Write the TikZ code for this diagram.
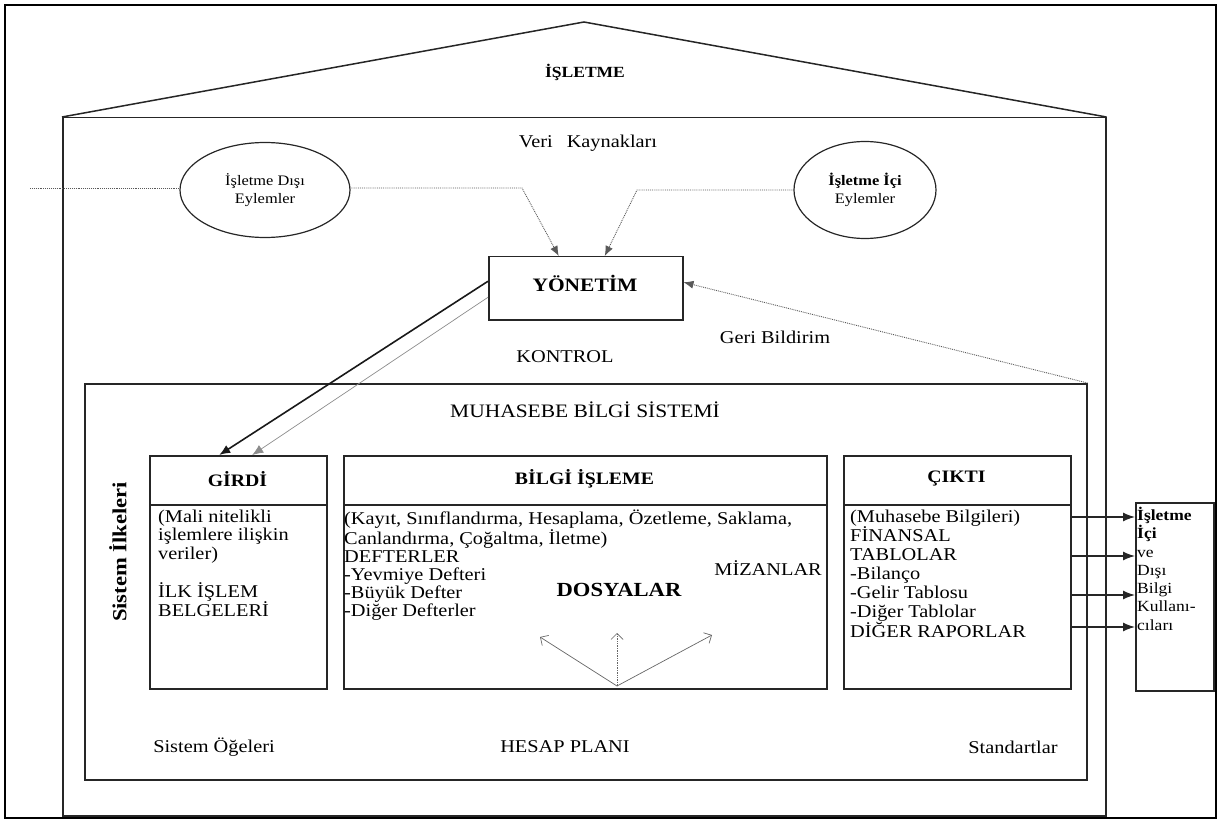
\documentclass[tikz,border=0pt]{standalone}
\usepackage{fontspec}
\setmainfont[FakeStretch=1.13]{Liberation Serif}
\usetikzlibrary{shapes.geometric,arrows.meta,calc}
\begin{document}
\begin{tikzpicture}[x=1pt,y=-1pt,
  frame/.style={draw=black!85, line width=1.5pt},
  box/.style={frame, inner sep=0pt, anchor=north west},
  oval/.style={draw=black!85, line width=1.2pt, ellipse, inner sep=0pt, align=center, font=\fontsize{14.5}{18}\selectfont},
  dotln/.style={draw=black!65, densely dotted, line width=0.9pt},
  darr/.style={dotln, -{Latex[length=10pt,width=8pt]}},
  sarr/.style={draw=black!90, line width=1.6pt, -{Latex[length=11pt,width=9pt]}},
  garr/.style={draw=black!45, line width=0.7pt, -{Latex[length=11pt,width=9pt]}},
  oarr/.style={draw=black!60, line width=0.7pt, -{Straight Barb[length=6pt,width=12pt]}},
  oarrd/.style={oarr, densely dotted},
  carr/.style={draw=black!85, line width=1.3pt, -{Latex[length=12pt,width=9pt]}},
  lbl/.style={inner sep=0pt, font=\fontsize{18}{19}\selectfont},
  blbl/.style={inner sep=0pt, font=\bfseries\fontsize{17.5}{19}\selectfont},
  txt/.style={inner sep=0pt, anchor=north west, align=left}
]
\useasboundingbox (0,0) rectangle (1219,821);
% outer frame
\draw[line width=1.2pt] (5,5) rectangle (1216,818);
% house
\node[box, minimum width=1043pt, minimum height=698pt] (house) at (62,117) {};
\coordinate (apex) at (584,22);
\draw[frame] (house.north west) -- (apex) -- (house.north east);
\node[inner sep=0pt, font=\bfseries\fontsize{15.5}{18}\selectfont] (islt) at (585,72) {İŞLETME};
% ellipses
\node[oval, minimum width=170pt, minimum height=95pt] (dis) at (265,190) {İşletme Dışı\\Eylemler};
\node[oval, minimum width=142pt, minimum height=97pt] (ici) at (865,190) {\textbf{İşletme İçi}\\Eylemler};
\node[lbl] (veri) at (588,143) {Veri\hspace{14pt}Kaynakları};
% management
\node[box, minimum width=194pt, minimum height=63pt] (yon) at (488,256) {};
\node[inner sep=0pt, font=\bfseries\fontsize{19}{20}\selectfont] (yont) at (585,283) {YÖNETİM};
\node[lbl] (kont) at (565,357) {KONTROL};
\node[lbl] (geri) at (775,337) {Geri Bildirim};
% dotted connections
\coordinate (lfree) at (30,188);
\coordinate (c1) at (522,188);
\coordinate (c2) at (637,190);
\draw[dotln] (lfree) -- (dis.west |- lfree);
\draw[darr] (dis.east |- c1) -- (c1) -- ([xshift=-27pt]yon.north);
\draw[darr] (ici.west |- c2) -- (c2) -- ([xshift=19pt]yon.north);
% MBS
\node[box, minimum width=1002pt, minimum height=396pt] (mbs) at (84,383) {};
\node[inner sep=0pt, font=\fontsize{19}{20}\selectfont] (mbst) at (585,410) {MUHASEBE BİLGİ SİSTEMİ};
\draw[darr] (mbs.north east) -- ([yshift=6pt]yon.east);
\node[inner sep=0pt, font=\bfseries\fontsize{20}{20}\selectfont, rotate=90] (ilk) at (118,552) {Sistem İlkeleri};
% three boxes
\node[box, minimum width=177pt, minimum height=233pt] (girdi) at (149,455) {};
\node[box, minimum width=483pt, minimum height=233pt] (bilgi) at (343,455) {};
\node[box, minimum width=227pt, minimum height=233pt] (cikti) at (843,455) {};
\draw[frame] (girdi.west |- 0,505) -- (girdi.east |- 0,505);
\draw[frame] (bilgi.west |- 0,505) -- (bilgi.east |- 0,505);
\draw[frame] (cikti.west |- 0,505) -- (cikti.east |- 0,505);
\node[blbl] (girdih) at (237.5,479) {GİRDİ};
\node[blbl] (bilgih) at (584.5,479) {BİLGİ İŞLEME};
\node[blbl] (ciktih) at (956.5,479) {ÇIKTI};
% arrows management -> input
\draw[sarr] ([yshift=7pt]yon.west) -- ([xshift=-19pt]girdi.north);
\draw[garr] ([yshift=-9pt]yon.west) -- ([xshift=14pt]girdi.north);
% contents
\node[txt, font=\fontsize{18}{18.3}\selectfont] (girdic) at (158,510) {(Mali nitelikli\\işlemlere ilişkin\\veriler)\\[18.3pt]İLK İŞLEM\\BELGELERİ};
\node[txt, font=\fontsize{18}{18}\selectfont] (bilgic) at (344,510) {(Kayıt, Sınıflandırma, Hesaplama, Özetleme, Saklama,\\Canlandırma, Çoğaltma, İletme)\\DEFTERLER\\-Yevmiye Defteri\\-Büyük Defter\\-Diğer Defterler};
\node[lbl, anchor=east] (miz) at (822,568) {MİZANLAR};
\node[inner sep=0pt, font=\bfseries\fontsize{20}{21}\selectfont] (dos) at (619,590) {DOSYALAR};
\coordinate (fan) at (617,686);
\coordinate (fl) at (540,637);
\coordinate (fm) at (617,633);
\coordinate (fr) at (712,635);
\draw[oarr] (fan) -- (fl);
\draw[oarrd] (fan) -- (fm);
\draw[oarr] (fan) -- (fr);
\node[txt, font=\fontsize{18}{19}\selectfont] (ciktic) at (850,510) {(Muhasebe Bilgileri)\\FİNANSAL\\TABLOLAR\\-Bilanço\\-Gelir Tablosu\\-Diğer Tablolar\\DİĞER RAPORLAR};
% users box
\node[box, minimum width=78pt, minimum height=188pt] (user) at (1135,502) {};
\node[txt, font=\fontsize{15.5}{18.3}\selectfont] (userc) at (1137,507) {\textbf{İşletme}\\\textbf{İçi}\\ve\\Dışı\\Bilgi\\Kullanı-\\cıları};
\coordinate (r1) at (0,517);
\coordinate (r2) at (0,556);
\coordinate (r3) at (0,595);
\coordinate (r4) at (0,627);
\draw[carr] (cikti.east |- r1) -- (user.west |- r1);
\draw[carr] (cikti.east |- r2) -- (user.west |- r2);
\draw[carr] (cikti.east |- r3) -- (user.west |- r3);
\draw[carr] (cikti.east |- r4) -- (user.west |- r4);
% bottom labels
\node[lbl] (oge) at (214,747) {Sistem Öğeleri};
\node[lbl] (hesap) at (565,747) {HESAP PLANI};
\node[lbl] (std) at (1013,747) {Standartlar};
\end{tikzpicture}
\end{document}
